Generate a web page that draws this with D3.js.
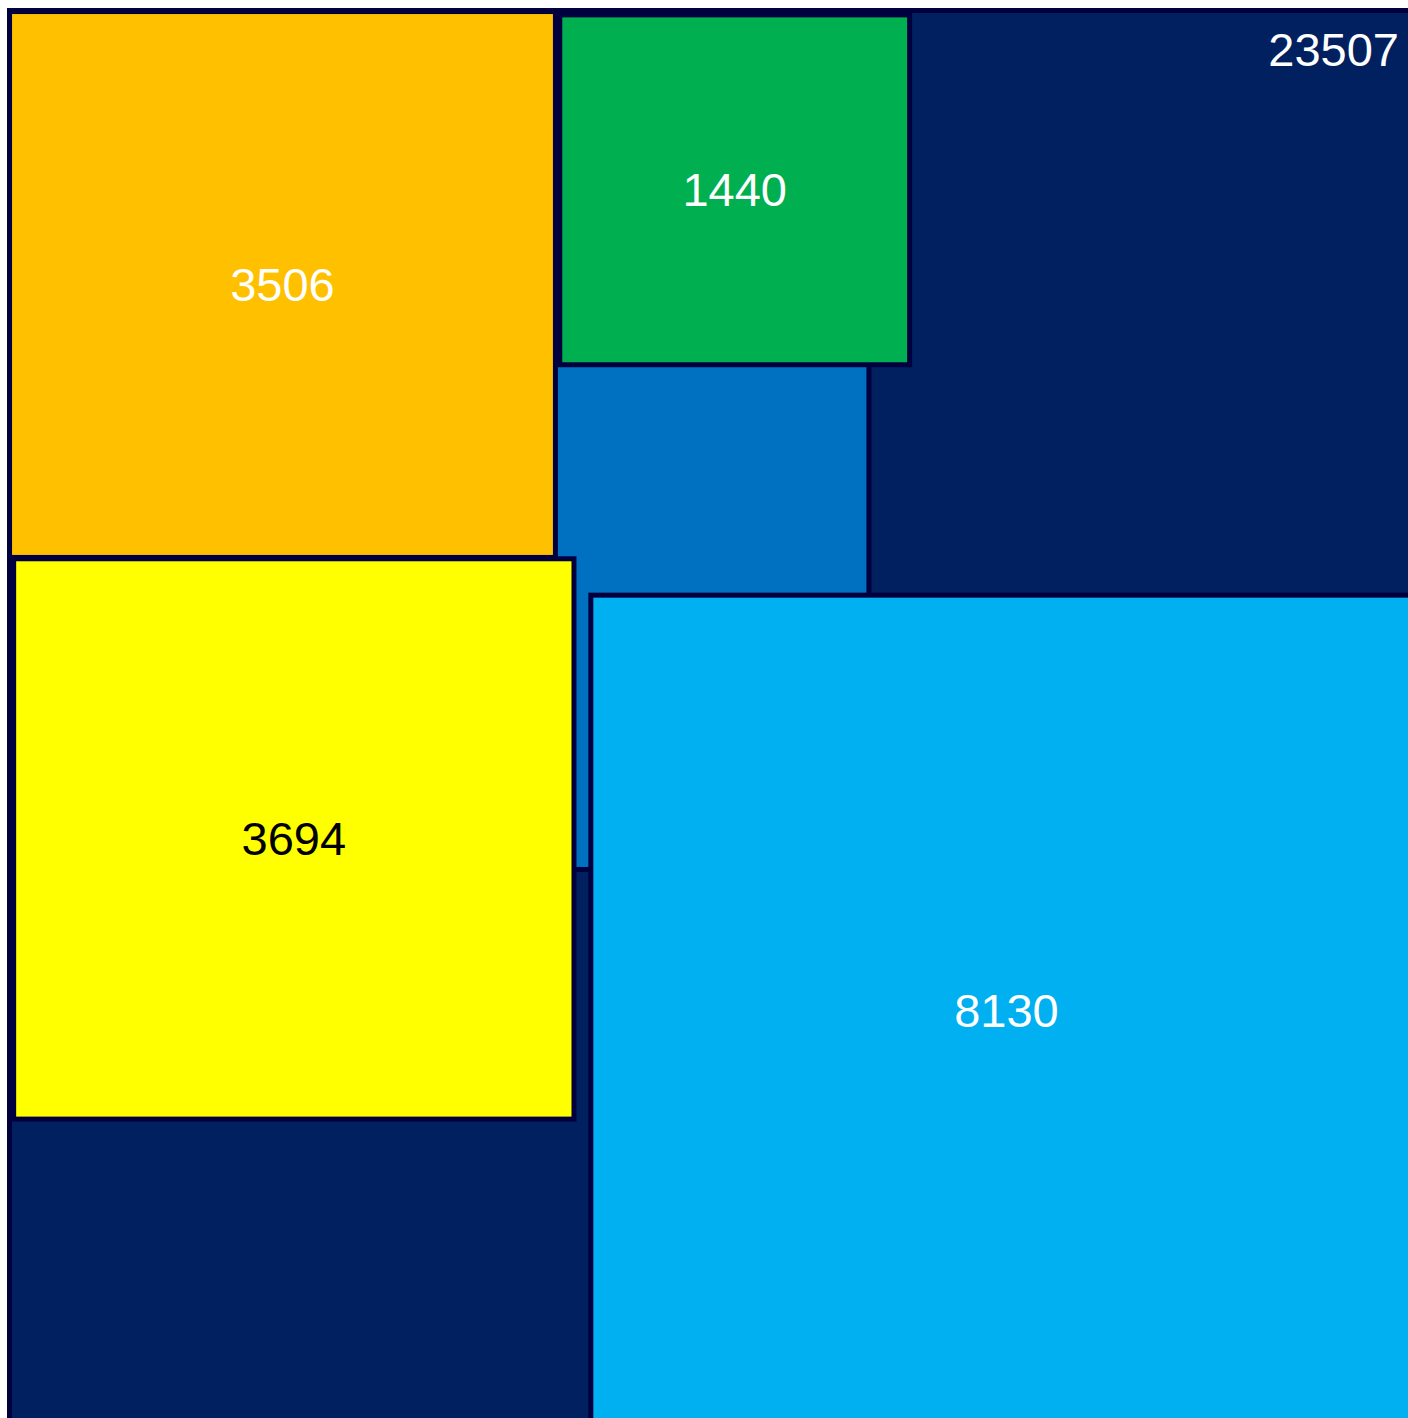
<!DOCTYPE html>
<html>
<head>
<meta charset="utf-8">
<script src="https://cdn.jsdelivr.net/npm/d3@7"></script>
<style>
  html, body { margin: 0; padding: 0; background: #ffffff; }
  svg { display: block; }
</style>
</head>
<body>
<svg id="chart" width="1408" height="1418"></svg>
<script>
// node values (square area is proportional to value)
const values = [23507, 6737, 3506, 1440, 3694, 8130];
// square centres, in sqrt-value units measured from the outer square's top-left corner
const centerX = [76.66, 52.18, 29.61, 78.66, 30.84, 108.14];
const centerY = [76.66, 52.13, 29.72, 19.45, 89.86, 108.5];
const fills = ["#002060", "#0070C0", "#FFC000", "#00B050", "#FFFF00", "#00B0F0"];
const labelColors = ["#ffffff", "#ffffff", "#ffffff", "#ffffff", "#000000", "#ffffff"];

const svg = d3.select("#chart");
const W = +svg.attr("width"), H = +svg.attr("height");

const side = Math.sqrt(values[0]);
const x = d3.scaleLinear().domain([0, side]).range([9.5, 1423]);
const y = d3.scaleLinear().domain([0, side]).range([10.5, 1424]);
const unit = x(1) - x(0);

const nodes = values.map((v, i) => ({
    value: v,
    cx: centerX[i],
    cy: centerY[i],
    s: Math.sqrt(v),
    fill: fills[i],
    color: labelColors[i],
    root: i === 0
}));

const g = svg.selectAll("g.node")
    .data(nodes)
    .enter().append("g")
    .attr("class", "node");

g.append("rect")
    .attr("x", d => x(d.cx - d.s / 2))
    .attr("y", d => y(d.cy - d.s / 2))
    .attr("width", d => d.s * unit)
    .attr("height", d => d.s * unit)
    .attr("fill", d => d.fill)
    .attr("stroke", "#00003F")
    .attr("stroke-width", 5);

// root label sits in the top-right corner, the others at the centre of their square
g.append("text")
    .attr("x", d => d.root ? Math.min(x(d.cx + d.s / 2), W) - 9 : x(d.cx))
    .attr("y", d => d.root ? y(d.cy - d.s / 2) + 39 : y(d.cy))
    .attr("dy", ".35em")
    .attr("text-anchor", d => d.root ? "end" : "middle")
    .attr("fill", d => d.color)
    .style("font-family", "'Liberation Sans', Arial, sans-serif")
    .style("font-size", "47px")
    .text(d => d.value);
</script>
</body>
</html>
